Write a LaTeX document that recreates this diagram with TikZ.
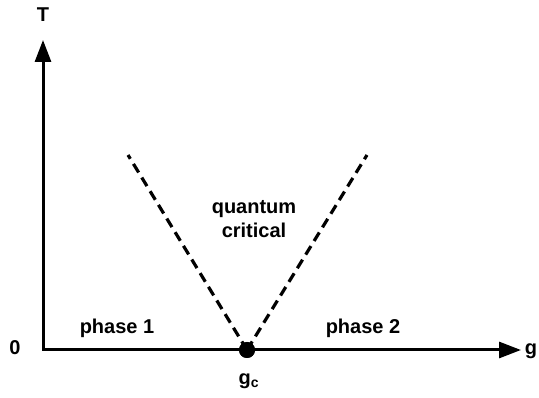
\documentclass[tikz,border=0pt]{standalone}
\usepackage{fontspec}
\setmainfont{Liberation Sans}
\usetikzlibrary{arrows.meta}
\tikzset{
  axisline/.style={{Triangle[length=16.5pt, width=12pt]}-{Triangle[length=16.5pt, width=12pt]}, line width=2.25pt, black},
  crossover/.style={line width=2.4pt, dash pattern=on 7.5pt off 4.5pt, black},
  qcp/.style={circle, fill=black, inner sep=0pt, minimum size=12pt},
  plbl/.style={font=\fontsize{15}{18}\selectfont\bfseries, text=black, align=center, inner sep=0pt},
}
\begin{document}
\begin{tikzpicture}[x=0.75pt, y=-0.75pt]
  \useasboundingbox (0,0) rectangle (539,398);
  % axes
  \coordinate (origin) at (43,350);
  \coordinate (ttip) at (43,40);
  \coordinate (gtip) at (521,350);
  \draw[axisline] (ttip) -- (origin) -- (gtip);
  % crossover lines
  \node[qcp] (gc) at (247,350) {};
  \coordinate (leftend) at (128,155);
  \coordinate (rightend) at (367,155);
  \draw[crossover] (gc.center) -- (leftend);
  \draw[crossover] (gc.center) -- (rightend);
  \node[qcp] at (gc) {};
  % labels
  \node[plbl] (tlbl) at (43,15) {T};
  \node[plbl] (glbl) at (531,351) {g};
  \node[plbl] (zero) at (15,348) {0};
  \node[plbl] (gclbl) at (249,381) {g\textsubscript{c}};
  \node[plbl] (p1) at (117,328) {phase 1};
  \node[plbl] (p2) at (363,328) {phase 2};
  \node[plbl] (qc) at (254,219) {quantum\\critical};
\end{tikzpicture}
\end{document}
